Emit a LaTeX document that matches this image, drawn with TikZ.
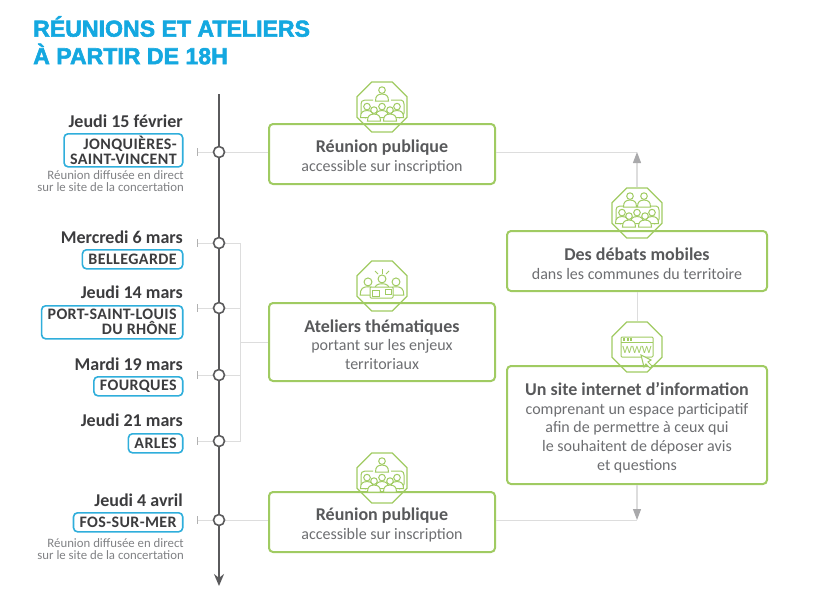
\documentclass[tikz,border=0pt]{standalone}
\usepackage{fontspec}
\setmainfont{Carlito}
\newfontfamily\titlefont[BoldFeatures={FakeBold=2.4}]{Liberation Sans}
\newfontfamily\placefont[LetterSpace=2.5]{Carlito}
\usetikzlibrary{shapes.geometric,arrows.meta,calc}

\definecolor{titlecyan}{HTML}{14A8E0}
\definecolor{boxgreen}{HTML}{A0CB62}
\definecolor{axisgray}{HTML}{5A5A5C}
\definecolor{linkgray}{HTML}{DDDDDD}
\definecolor{arrowgray}{HTML}{A9A9AB}
\definecolor{labelblue}{HTML}{2FAEDB}
\definecolor{darktext}{HTML}{3C3C3E}
\definecolor{headtext}{HTML}{58595B}
\definecolor{subtext}{HTML}{6D6E71}
\definecolor{notetext}{HTML}{808184}

\tikzset{
    eventbox/.style={draw=boxgreen,line width=2pt,rounded corners=4pt,inner sep=0pt,align=center,text=subtext,font=\fontsize{16}{18.7}\selectfont},
    badge/.style={draw=boxgreen,line width=1.3pt,fill=white,regular polygon,regular polygon sides=8,minimum size=54pt,inner sep=0pt},
    placename/.style={draw=labelblue,line width=1.6pt,rounded corners=4pt,anchor=north east,inner xsep=6pt,inner ysep=0pt,minimum height=19pt,align=right,text=darktext,font=\placefont\fontsize{16}{15}\selectfont\bfseries},
    datelabel/.style={anchor=base east,inner sep=0pt,text=darktext,font=\fontsize{18}{18}\selectfont\bfseries},
    note/.style={anchor=north east,inner sep=0pt,align=right,text=notetext,font=\fontsize{12.8}{12}\selectfont},
    stop/.style={circle,draw=axisgray,line width=1.6pt,fill=white,minimum size=11pt,inner sep=0pt},
    link/.style={draw=linkgray,line width=1pt},
    flow/.style={draw=linkgray,line width=1.2pt,-{Triangle[length=11pt,width=8pt,color=arrowgray]}},
    icon/.style={draw=boxgreen,line width=1pt},
    person/.pic={
        \draw[icon,fill=white] (0,-3.4) circle (3.3);
        \draw[icon,fill=white] (-6.5,7.5) .. controls (-6.5,2) and (-4,0.6) .. (0,0.6) .. controls (4,0.6) and (6.5,2) .. (6.5,7.5) -- cycle;
    }
}

\newcommand{\boxhead}[1]{{\fontsize{18}{20}\selectfont\bfseries\color{headtext}\rule{0pt}{18pt}#1}}

% crowd in a frame, below the badge centre
\newcommand{\crowd}[2]{%
    \begin{scope}[shift={(#1,#2)}]
        \draw[icon] (-9,-7)--(-17,-7)..controls(-20,-7)and(-21,-5)..(-21,-3)--(-21,6)..controls(-21,9)and(-19,11)..(-16,11);
        \draw[icon] (9,-7)--(19,-7)..controls(21,-7)and(22,-5)..(22,-3)--(22,6)..controls(22,9)and(20,11)..(17,11);
        \pic at (-15,3) {person};
        \pic at (15,3) {person};
        \pic at (0,3) {person};
        \pic at (-8,6.5) {person};
        \pic at (8,6.5) {person};
    \end{scope}}

\begin{document}
\begin{tikzpicture}[x=1pt,y=-1pt]
    \useasboundingbox (0,0) rectangle (818,608);

    % title
    \node[anchor=north west,inner sep=0pt,align=left,text=titlecyan,font=\titlefont\fontsize{23.1}{27.5}\selectfont\bfseries] (title) at (33,16) {RÉUNIONS ET ATELIERS\\À PARTIR DE 18H};

    % time axis
    \coordinate (axistop) at (219,94);
    \coordinate (axisend) at (219,586);
    \draw[axisgray,line width=1.8pt,-{Stealth[length=12pt,width=10pt]}] (axistop)--(axisend);

    % badges sit under the box outlines
    \node[badge] (badgeone) at (382,107) {};
    \node[badge] (badgetwo) at (382,286) {};
    \node[badge] (badgethree) at (382,478) {};
    \node[badge] (badgedebate) at (637,213) {};
    \node[badge] (badgeweb) at (637,347) {};

    % boxes
    \node[eventbox,minimum width=226pt,minimum height=60pt] (meetone) at (382,154) {\boxhead{Réunion publique}\\accessible sur inscription};
    \node[eventbox,minimum width=226pt,minimum height=78pt] (workshops) at (382,342) {\boxhead{Ateliers thématiques}\\portant sur les enjeux\\territoriaux};
    \node[eventbox,minimum width=226pt,minimum height=60pt] (meettwo) at (382,522) {\boxhead{Réunion publique}\\accessible sur inscription};
    \node[eventbox,minimum width=260pt,minimum height=60pt] (debates) at (637,261) {\boxhead{Des débats mobiles}\\dans les communes du territoire};
    \node[eventbox,minimum width=260pt,minimum height=118pt] (website) at (637,425) {\boxhead{Un site internet d’information}\\comprenant un espace participatif\\afin de permettre à ceux qui\\le souhaitent de déposer avis\\et questions};

    % dates and places
    \node[datelabel] (dateone) at (183,127) {Jeudi 15 février};
    \node[placename,minimum height=33pt] (placeone) at (183.5,133) {JONQUIÈRES-\\SAINT-VINCENT};
    \node[note] (noteone) at (184,170) {Réunion diffusée en direct\\sur le site de la concertation};
    \node[datelabel] (datetwo) at (183,243) {Mercredi 6 mars};
    \node[placename] (placetwo) at (183.5,249) {BELLEGARDE};
    \node[datelabel] (datethree) at (183,298) {Jeudi 14 mars};
    \node[placename,minimum height=33pt] (placethree) at (183.5,305) {PORT-SAINT-LOUIS\\DU RHÔNE};
    \node[datelabel] (datefour) at (183,370) {Mardi 19 mars};
    \node[placename] (placefour) at (183.5,376) {FOURQUES};
    \node[datelabel] (datefive) at (183,426) {Jeudi 21 mars};
    \node[placename] (placefive) at (183.5,433) {ARLES};
    \node[datelabel] (datesix) at (183,506) {Jeudi 4 avril};
    \node[placename] (placesix) at (183.5,512) {FOS-SUR-MER};
    \node[note] (notesix) at (184,538) {Réunion diffusée en direct\\sur le site de la concertation};

    % links from the stops
    \coordinate (fork) at (240,342);
    \coordinate (forktop) at (240,243);
    \coordinate (forkend) at (240,441);
    \coordinate (upend) at (637,152);
    \coordinate (downend) at (637,520);
    \draw[link] (219,152)--(meetone.west|-219,152);
    \draw[link] (219,520)--(meettwo.west|-219,520);
    \draw[link] (219,243)--(forktop)--(forkend)--(219,441);
    \draw[link] (219,308)--(240,308);
    \draw[link] (219,375)--(240,375);
    \draw[link] (fork)--(workshops.west);
    \draw[link] (meetone.east|-upend)--(upend);
    \draw[link] (meettwo.east|-downend)--(downend);
    \draw[flow] (badgedebate.north)--(upend);
    \draw[link] (debates.south)--(badgeweb.north);
    \draw[flow] (website.south)--(downend);

    % stops on the axis
    \foreach \name/\y in {feb/152,belle/243,port/308,four/375,arles/441,fos/520}{
        \coordinate (\name tick) at (197,\y);
        \draw[link] (\name tick)--(219,\y);
        \draw[link,draw=linkgray!80!black] ($(\name tick)+(0,-4)$)--($(\name tick)+(0,4)$);
        \node[stop] (\name) at (219,\y) {};
    }

    % icons
    \crowd{382}{107}
    \pic at (382,93.5) {person};
    \crowd{382}{478}
    \pic at (382,464.5) {person};
    \crowd{637}{213}
    \pic at (630,199.5) {person};
    \pic at (644,199.5) {person};

    % workshop icon
    \begin{scope}[shift={(382,286)}]
        \pic[scale=1.2] at (-14,0) {person};
        \pic[scale=1.2] at (14,0) {person};
        \pic[scale=1.2] at (0,-3) {person};
        \draw[icon,fill=white,rounded corners=1pt] (-12,1) rectangle (11,12);
        \draw[icon] (-10,4) rectangle (-3,10);
        \draw[icon] (3,3) rectangle (9,8);
        \draw[icon] (0,-17)--(0,-12);
        \draw[icon] (-7,-15)--(-4,-12);
        \draw[icon] (7,-15)--(4,-12);
    \end{scope}

    % web icon
    \begin{scope}[shift={(637,347)}]
        \draw[icon,rounded corners=1pt] (-16,-10) rectangle (16,10);
        \draw[icon] (-16,-5)--(16,-5);
        \foreach \x in {-14,-10.5,-7}{\fill[boxgreen] (\x,-8.6) rectangle ++(2.4,2.4);}
        \node[inner sep=0pt,text=boxgreen,font=\fontsize{11}{11}\selectfont] (www) at (0,3) {WWW};
        \draw[icon,fill=white] (4,8)--(14,13)--(11,15)--(15,19)--(13,21)--(9,17)--(7,20)--cycle;
    \end{scope}
\end{tikzpicture}
\end{document}
